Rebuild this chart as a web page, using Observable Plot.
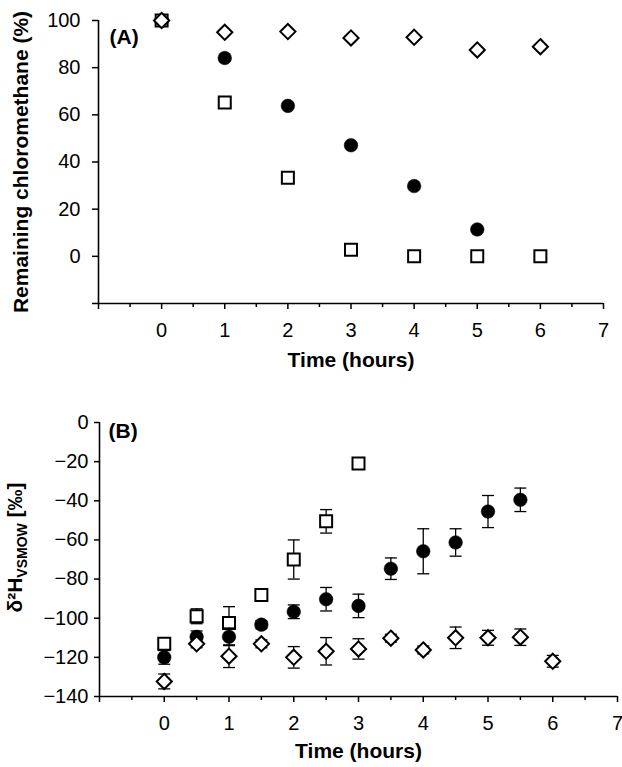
<!DOCTYPE html>
<html>
<head>
<meta charset="utf-8">
<script src="https://cdn.jsdelivr.net/npm/d3@7"></script>
<script src="https://cdn.jsdelivr.net/npm/@observablehq/plot@0.6"></script>
<style>
  body { margin: 0; background: #fff; }
  #chart { width: 622px; }
  #chart svg { display: block; }
</style>
</head>
<body>
<div id="chart"></div>
<script>
// ---------- Panel A: remaining chloromethane (%) ----------
const timeA = [0, 1, 2, 3, 4, 5, 6];
const remainingDiamond = [100, 95, 95.3, 92.6, 92.9, 87.5, 88.9];
const remainingCircle  = [100, 84.1, 63.8, 47.1, 29.8, 11.4, null];
const remainingSquare  = [100, 65.2, 33.3, 2.8, 0, 0, 0];

// ---------- Panel B: δ2H VSMOW (‰) with error bars ----------
const timeB = [0, 0.5, 1, 1.5, 2, 2.5, 3, 3.5, 4, 4.5, 5, 5.5, 6];
const deltaCircle  = [-120, -109.5, -109.5, -103.3, -96.7, -90.3, -93.7, -74.7, -65.8, -61.3, -45.5, -39.5, null];
const errCircle    = [3.5, 3, 4.5, 2, 3.5, 6, 6, 5.5, 11.5, 7, 8.2, 6, null];
const deltaSquare  = [-113, -99, -102.4, -88.2, -70, -50.5, -21, null, null, null, null, null, null];
const errSquare    = [2, 3.8, 8.3, 2, 10, 6, 1.5, null, null, null, null, null, null];
const deltaDiamond = [-132.3, -113.1, -119.4, -113.1, -120, -116.9, -115.7, -110.2, -116.2, -110, -110, -109.7, -122];
const errDiamond   = [3.8, 2, 5.8, 2, 5.5, 7, 5.2, 2, 2, 5.5, 3.8, 4.2, 3];

// ---------- Axes ----------
const xDomain = [-1, 7];
const xTicks = [-1, 0, 1, 2, 3, 4, 5, 6, 7];
const xMinorTicks = [-0.5, 0.5, 1.5, 2.5, 3.5, 4.5, 5.5, 6.5];
const yDomainA = [-20, 100];
const yTicksA = [-20, 0, 20, 40, 60, 80, 100];
const yDomainB = [-140, 0];
const yTicksB = [-140, -120, -100, -80, -60, -40, -20, 0];

const xTitle = "Time (hours)";
const yTitleA = "Remaining chloromethane (%)";
const yTitleB = "δ²HVSMOW [‰]";
const panelA = "(A)";
const panelB = "(B)";

// ---------- symbols ----------
const squareSym = {draw(ctx, size) { const r = Math.sqrt(size / Math.PI); ctx.moveTo(-r, -r); ctx.lineTo(r, -r); ctx.lineTo(r, r); ctx.lineTo(-r, r); ctx.closePath(); }};
const diamondSym = {draw(ctx, size) { const r = Math.sqrt(size / Math.PI); ctx.moveTo(0, -r); ctx.lineTo(r, 0); ctx.lineTo(0, r); ctx.lineTo(-r, 0); ctx.closePath(); }};
const capSym = {draw(ctx, size) { const r = Math.sqrt(size / Math.PI); ctx.moveTo(-r, 0); ctx.lineTo(r, 0); }};

const rowsOf = (t, v, e) => t.map((x, i) => ({t: x, v: v[i], e: e ? e[i] : 0})).filter(d => d.v != null);
const fmt = d => d < 0 ? "\u2212" + Math.abs(d) : String(d);

const style = {fontFamily: "'Liberation Sans', Arial, sans-serif", fontSize: "20px", color: "black", background: "white", overflow: "visible"};

function axes(yTicks, yHide, tickSizeY, tickPaddingY) {
  return [
    Plot.axisX({ticks: xTicks, tickSize: 6, tickPadding: 13, strokeWidth: 1.5, label: null,
      tickFormat: d => d === xTicks[0] ? "" : fmt(d)}),
    Plot.axisX({ticks: xMinorTicks, tickSize: 4, strokeWidth: 1.5, label: null, tickFormat: () => ""}),
    Plot.axisY({ticks: yTicks, tickSize: tickSizeY, tickPadding: tickPaddingY, strokeWidth: 1.5, label: null,
      tickFormat: d => (yHide && d === yTicks[0]) ? "" : fmt(d)}),
  ];
}

function markerMarks(rows, kind) {
  if (kind === "circle") return Plot.dot(rows, {x: "t", y: "v", r: 6.8, fill: "black", stroke: "black", strokeWidth: 0.5});
  if (kind === "square") return Plot.dot(rows, {x: "t", y: "v", symbol: squareSym, r: 6, fill: "white", stroke: "black", strokeWidth: 2});
  return Plot.dot(rows, {x: "t", y: "v", symbol: diamondSym, r: 7.6, fill: "white", stroke: "black", strokeWidth: 2});
}

function errorMarks(rows) {
  return [
    Plot.ruleX(rows, {x: "t", y1: d => d.v - d.e, y2: d => d.v + d.e, stroke: "black", strokeWidth: 1.3}),
    Plot.dot(rows, {x: "t", y: d => d.v - d.e, symbol: capSym, r: 6, fill: "none", stroke: "black", strokeWidth: 1.3}),
    Plot.dot(rows, {x: "t", y: d => d.v + d.e, symbol: capSym, r: 6, fill: "none", stroke: "black", strokeWidth: 1.3}),
  ];
}

// ---------- Panel A ----------
const plotA = Plot.plot({
  width: 622, height: 380,
  marginLeft: 98, marginRight: 19, marginTop: 20, marginBottom: 77,
  style,
  x: {domain: xDomain},
  y: {domain: yDomainA},
  marks: [
    ...axes(yTicksA, true, 6, 12),
    Plot.ruleX([xDomain[0]], {stroke: "black", strokeWidth: 1.6}),
    Plot.ruleY([yDomainA[0]], {stroke: "black", strokeWidth: 1.6}),
    markerMarks(rowsOf(timeA, remainingCircle), "circle"),
    markerMarks(rowsOf(timeA, remainingSquare), "square"),
    markerMarks(rowsOf(timeA, remainingDiamond), "diamond"),
    Plot.text([panelA], {text: d => d, frameAnchor: "top-left", dx: 11, dy: 9, lineAnchor: "top", textAnchor: "start", fontWeight: "bold", fontSize: 21}),
    Plot.text([xTitle], {text: d => d, frameAnchor: "bottom", dy: 49, lineAnchor: "top", textAnchor: "middle", fontWeight: "bold", fontSize: 21}),
    Plot.text([yTitleA], {text: d => d, frameAnchor: "left", rotate: -90, dx: -77.5, textAnchor: "middle", fontWeight: "bold", fontSize: 21}),
  ]
});

// ---------- Panel B ----------
const circB = rowsOf(timeB, deltaCircle, errCircle);
const sqB = rowsOf(timeB, deltaSquare, errSquare);
const diaB = rowsOf(timeB, deltaDiamond, errDiamond);

const plotB = Plot.plot({
  width: 622, height: 387,
  marginLeft: 99, marginRight: 5, marginTop: 42, marginBottom: 71,
  style,
  x: {domain: xDomain},
  y: {domain: yDomainB},
  marks: [
    ...axes(yTicksB, false, 5, 6),
    Plot.ruleX([xDomain[0]], {stroke: "black", strokeWidth: 1.6}),
    Plot.ruleY([yDomainB[0]], {stroke: "black", strokeWidth: 1.6}),
    ...errorMarks(sqB),
    markerMarks(sqB, "square"),
    ...errorMarks(circB),
    markerMarks(circB, "circle"),
    ...errorMarks(diaB),
    markerMarks(diaB, "diamond"),
    Plot.text([panelB], {text: d => d, frameAnchor: "top-left", dx: 9, dy: 1, lineAnchor: "top", textAnchor: "start", fontWeight: "bold", fontSize: 21}),
    Plot.text([xTitle], {text: d => d, frameAnchor: "bottom", dy: 47, lineAnchor: "top", textAnchor: "middle", fontWeight: "bold", fontSize: 21}),
    Plot.text([yTitleB], {text: d => d, frameAnchor: "left", rotate: -90, dx: -84.5, dy: -12, textAnchor: "middle", fontWeight: "bold", fontSize: 21}),
  ]
});

// subscript for δ²H_VSMOW
plotB.querySelectorAll("text").forEach(t => {
  if (t.textContent === yTitleB) {
    const ns = "http://www.w3.org/2000/svg";
    t.textContent = "";
    const a = document.createElementNS(ns, "tspan"); a.textContent = "δ²H";
    const b = document.createElementNS(ns, "tspan"); b.textContent = "VSMOW"; b.setAttribute("font-size", "14"); b.setAttribute("dy", "5");
    const c = document.createElementNS(ns, "tspan"); c.textContent = " [‰]"; c.setAttribute("dy", "-5");
    t.append(a, b, c);
  }
});

document.getElementById("chart").append(plotA, plotB);
</script>
</body>
</html>
